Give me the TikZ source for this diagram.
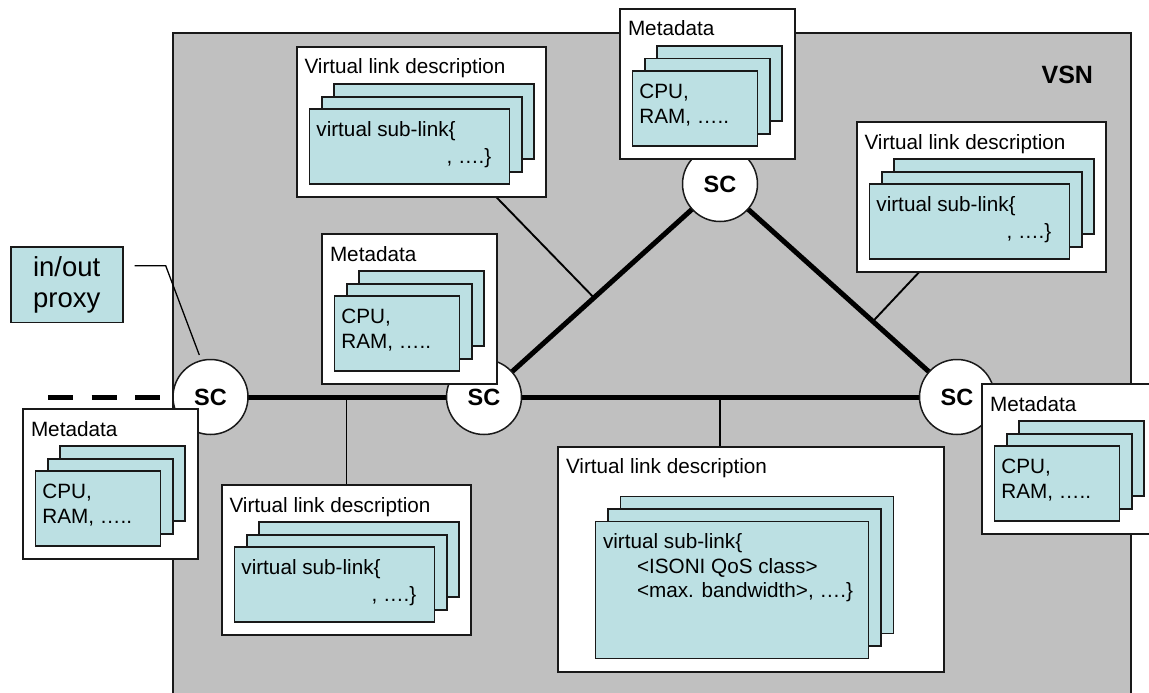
\documentclass[tikz,border=0pt]{standalone}
\usepackage{fontspec}
\setmainfont{Liberation Sans}
\usetikzlibrary{calc}
\definecolor{vsngray}{RGB}{192,192,192}
\definecolor{cardcyan}{RGB}{188,224,227}
\definecolor{inkline}{RGB}{25,25,25}
\pgfdeclarelayer{bg}
\pgfdeclarelayer{links}
\pgfsetlayers{bg,links,main}

% A "Virtual link description" panel with its stack of three sub-link cards
\newcommand\linkpanel[3]{%
  \node[panel, minimum width=249pt, minimum height=150pt] (#1) at (#2,#3) {};
  \node[lbl] (#1-title) at ($(#1.north west)+(7.5,27)$) {Virtual link description};
  \node[card, minimum width=200pt, minimum height=75pt] (#1-c3) at ($(#1.north west)+(37.2,37.2)$) {};
  \node[card, minimum width=200pt, minimum height=75pt] (#1-c2) at ($(#1.north west)+(24.8,49.7)$) {};
  \node[card, minimum width=200pt, minimum height=75pt] (#1-c1) at ($(#1.north west)+(12.4,62.2)$) {};
  \node[lbl] (#1-l1) at ($(#1-c1.north west)+(7,27.5)$) {virtual sub-link\{};
  \node[lblr] (#1-l2) at ($(#1-c1.north west)+(182,54)$) {, ….\}};
}
% A "Metadata" panel with its stack of three resource cards
\newcommand\metapanel[3]{%
  \node[panel, minimum width=175pt, minimum height=150pt] (#1) at (#2,#3) {};
  \node[lbl] (#1-title) at ($(#1.north west)+(8,27)$) {Metadata};
  \node[card, minimum width=125pt, minimum height=75pt] (#1-c3) at ($(#1.north west)+(37.2,37.2)$) {};
  \node[card, minimum width=125pt, minimum height=75pt] (#1-c2) at ($(#1.north west)+(24.8,49.7)$) {};
  \node[card, minimum width=125pt, minimum height=75pt] (#1-c1) at ($(#1.north west)+(12.4,62.2)$) {};
  \node[lbl] (#1-l1) at ($(#1-c1.north west)+(7,27)$) {CPU,};
  \node[lbl] (#1-l2) at ($(#1-c1.north west)+(7,52)$) {RAM, …..};
}

\begin{document}
\begin{tikzpicture}[x=1pt,y=-1pt,
  every node/.style={inner sep=0pt, outer sep=0pt},
  panel/.style={draw=inkline, line width=1.6pt, fill=white, anchor=north west},
  card/.style={draw=inkline, line width=1.6pt, fill=cardcyan, anchor=north west},
  lbl/.style={anchor=base west, font=\fontsize{20.7}{24}\selectfont},
  lblr/.style={anchor=base east, font=\fontsize{20.7}{24}\selectfont},
  sc/.style={circle, draw=inkline, line width=1.5pt, fill=white, minimum size=75pt,
    font=\bfseries\fontsize{23.5}{28}\selectfont},
  trunk/.style={line width=5pt, black},
  spur/.style={line width=1.9pt, black},
]
\useasboundingbox (0,0) rectangle (1149,693);

% the virtual network area
\begin{pgfonlayer}{bg}
  \node[draw=inkline, line width=1.4pt, fill=vsngray, anchor=north west,
        minimum width=958pt, minimum height=700pt] (vsn) at (173,33) {};
\end{pgfonlayer}
\node[anchor=base east, font=\bfseries\fontsize{25}{30}\selectfont] (vsnlabel) at (1093,84) {VSN};

% switching controllers
\node[sc] (scL) at (210.5,397) {SC};
\node[sc] (scM) at (484,397) {SC};
\node[sc] (scT) at (720,184) {SC};
\node[sc] (scR) at (957,397) {SC};

% description panels
\linkpanel{vldTL}{297}{47}
\metapanel{mdT}{620}{9}
\linkpanel{vldR}{857}{122}
\metapanel{mdL}{322}{234}
\metapanel{mdBL}{23}{409}
\linkpanel{vldBL}{222}{485}
\metapanel{mdR}{982}{384}

% the large link description panel
\node[panel, minimum width=386pt, minimum height=225pt] (vldB) at (558,447) {};
\node[lbl] (vldB-title) at ($(vldB.north west)+(8,26)$) {Virtual link description};
\node[card, minimum width=273pt, minimum height=137pt] (vldB-c3) at ($(vldB.north west)+(62.4,49.4)$) {};
\node[card, minimum width=273pt, minimum height=137pt] (vldB-c2) at ($(vldB.north west)+(50,62)$) {};
\node[card, minimum width=273pt, minimum height=137pt] (vldB-c1) at ($(vldB.north west)+(37.5,74.5)$) {};
\node[lbl] (vldB-l1) at ($(vldB-c1.north west)+(7.5,27.3)$) {virtual sub-link\{};
\node[lbl] (vldB-l2) at ($(vldB-c1.north west)+(41.5,51.5)$) {<ISONI QoS class>};
\node[lbl] (vldB-l3) at ($(vldB-c1.north west)+(41.5,76.2)$) {<max. bandwidth>, ….\}};

% in/out proxy
\node[draw=inkline, line width=1.6pt, fill=cardcyan, minimum width=112pt, minimum height=75.6pt,
      align=center, font=\fontsize{27.5}{31}\selectfont] (proxy) at (66.7,284.5) {in/out\\proxy};

% links
\begin{pgfonlayer}{links}
  \draw[trunk] (scL.center) -- (scR.center);
  \draw[trunk] (scM.center) -- (scT.center) -- (scR.center);
  \coordinate (ext) at (48,397);
  \draw[trunk, dash pattern=on 25pt off 18.5pt] (ext) -- (scL.center);

  \coordinate (j1) at ($(scM.center)!0.466!(scT.center)$);
  \draw[spur] ($(vldTL.south west)!0.8!(vldTL.south east)$) -- (j1);
  \coordinate (j2) at ($(scT.center)!0.645!(scR.center)$);
  \draw[spur] ($(vldR.south west)!0.25!(vldR.south east)$) -- (j2);
  \draw[spur] (vldBL.north) -- (vldBL.north |- scL.center);
  \coordinate (j4) at (720,397);
  \draw[spur] (j4) -- (j4 |- vldB.north);

  \coordinate (proxyA) at ($(proxy.north east)+(12,19)$);
  \coordinate (proxyB) at ($(proxyA)+(31,0)$);
  \coordinate (proxyC) at ($(scL.center)+(-11.2,-42)$);
  \draw[line width=1.3pt] (proxyA) -- (proxyB) -- (proxyC);
\end{pgfonlayer}
\end{tikzpicture}
\end{document}
